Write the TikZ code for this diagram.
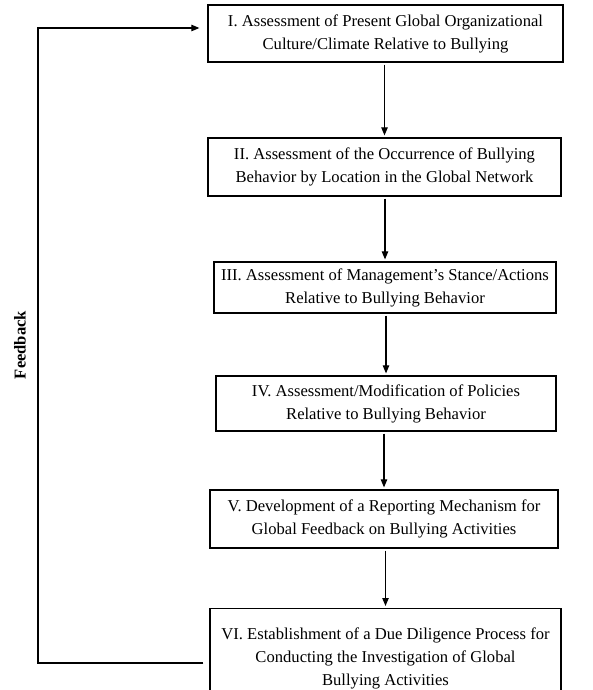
\documentclass[tikz,border=0pt]{standalone}
\usepackage{fontspec}
\setmainfont{Liberation Serif}
\usetikzlibrary{arrows.meta,positioning}

\begin{document}
\begin{tikzpicture}[
    x=0.5pt, y=-0.5pt,
    font=\fontsize{8.3}{11.5}\selectfont,
    stage/.style={draw, line width=0.6pt, align=center, inner sep=2pt},
    arrow/.style={-{Triangle[length=4pt,width=3.2pt]}, line width=0.55pt, shorten <=1pt, shorten >=1pt}
]
\useasboundingbox (0,0) rectangle (593,690);
\clip (0,0) rectangle (593,690);

\node[stage, minimum width=177.5pt, minimum height=28.5pt] (s1) at (385.5, 33.5) {I. Assessment of Present Global Organizational\\Culture/Climate Relative to Bullying};
\node[stage, minimum width=176.5pt, minimum height=29pt] (s2) at (384.5, 167) {II. Assessment of the Occurrence of Bullying\\Behavior by Location in the Global Network};
\node[stage, minimum width=171pt, minimum height=25.5pt] (s3) at (385, 287.5) {III. Assessment of Management's Stance/Actions\\Relative to Bullying Behavior};
\node[stage, minimum width=170pt, minimum height=27.5pt] (s4) at (386, 403.5) {IV. Assessment/Modification of Policies\\Relative to Bullying Behavior};
\node[stage, minimum width=174pt, minimum height=29pt] (s5) at (384, 519) {V. Development of a Reporting Mechanism for\\Global Feedback on Bullying Activities};
\node[stage, minimum width=175.5pt, minimum height=50pt, anchor=north] (s6) at (385.5, 608) {VI. Establishment of a Due Diligence Process for\\Conducting the Investigation of Global\\Bullying Activities};

% feedback loop
\coordinate (fbtop) at (38, 28);
\coordinate (fbbot) at (38, 663);
\node[font=\fontsize{8.3}{11.5}\selectfont\bfseries, rotate=90] (fblabel) at (20, 345) {Feedback};

\draw[arrow] (s1.south -| s2.north) -- (s2.north);
\draw[arrow] (s2.south -| s3.north) -- (s3.north);
\draw[arrow] (s3.south -| s4.north) -- (s4.north);
\draw[arrow] (s4.south -| s5.north) -- (s5.north);
\draw[arrow] (s5.south -| s6.north) -- (s6.north);

\draw[arrow, shorten <=3pt, shorten >=4pt] (s6.west |- fbbot) -- (fbbot) -- (fbtop) -- (s1.west |- fbtop);
\end{tikzpicture}
\end{document}
